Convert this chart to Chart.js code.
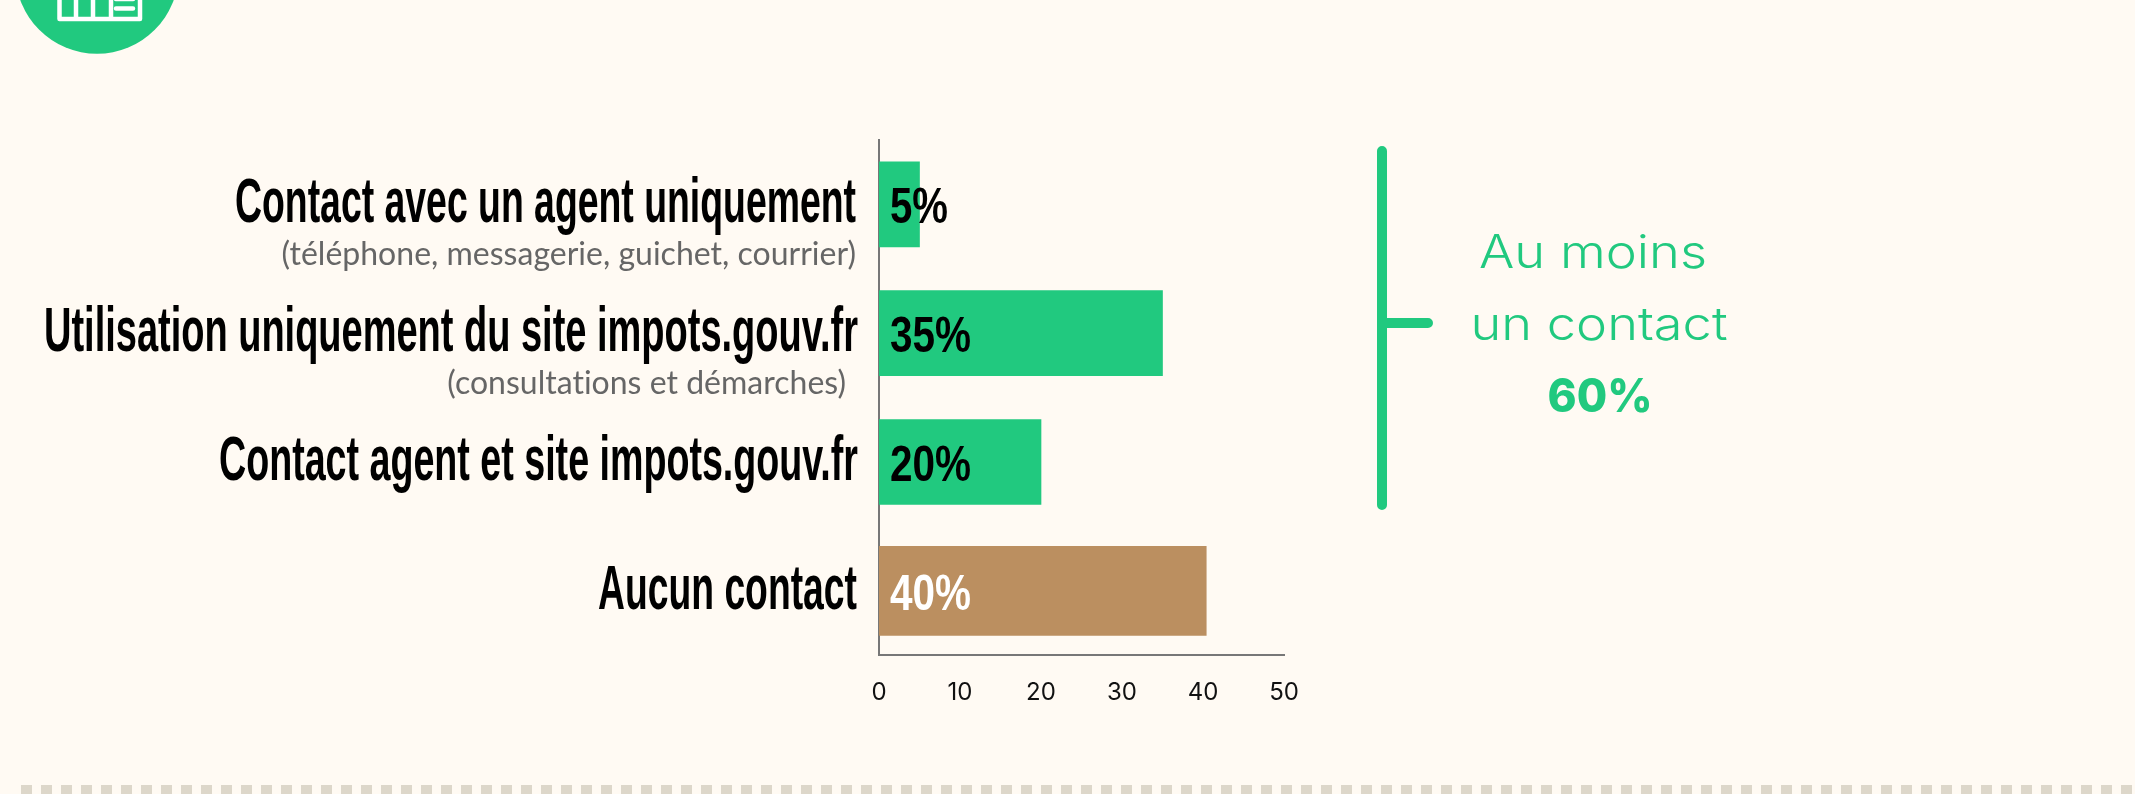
<!DOCTYPE html>
<html lang="fr"><head><meta charset="utf-8">
<style>html,body{margin:0;padding:0;background:#fffaf3;overflow:hidden}canvas{display:block}#w{width:2135px;height:794px;position:relative}</style>
<script src="https://cdn.jsdelivr.net/npm/chart.js@4"></script>
</head><body><div id="w"><canvas id="c" width="2135" height="794"></canvas></div>
<script>
const categories = ["Contact avec un agent uniquement","Utilisation uniquement du site impots.gouv.fr","Contact agent et site impots.gouv.fr","Aucun contact"];
const subLabels = ["(téléphone, messagerie, guichet, courrier)","(consultations et démarches)","",""];
const contactValues = [5,35,20,null];
const noContactValues = [null,null,null,40.4];
const valueLabels = ["5%","35%","20%","40%"];
const calloutLines = ["Au moins","un contact","60%"];
const GREEN="#21c97f",BROWN="#bb8f60",AXIS="#777";
const COND='"Liberation Sans Narrow","Liberation Sans",sans-serif';
const WIDE='Inter,"Open Sans",sans-serif';
function fit(ctx,text,x,y,width,font,color,align){
  ctx.save();ctx.font=font;ctx.fillStyle=color;ctx.textBaseline='alphabetic';ctx.textAlign='left';
  const m=ctx.measureText(text).width,s=width/m;
  const left=align==='right'?x-width:align==='center'?x-width/2:x;
  ctx.translate(left,y);ctx.scale(s,1);ctx.fillText(text,0,0);ctx.restore();
}
const labelsPlugin={id:'labels',
 beforeDatasetsDraw(chart){
  const ctx=chart.ctx;
  ctx.save();
  ctx.fillStyle="#ddd7ca";for(let x=21;x<2135;x+=20)ctx.fillRect(x,785,11,9);
  ctx.fillStyle=GREEN;ctx.beginPath();ctx.arc(97,-28,81.7,0,Math.PI*2);ctx.fill();
  ctx.strokeStyle="#fff";ctx.lineWidth=4.5;ctx.lineJoin='round';
  ctx.strokeRect(59.5,-12,80.5,31);
  ctx.beginPath();[76,93,111].forEach(x=>{ctx.moveTo(x,-12);ctx.lineTo(x,19)});ctx.stroke();
  ctx.lineCap='round';ctx.beginPath();ctx.moveTo(116,-1);ctx.lineTo(133,-1);ctx.moveTo(116,8.5);ctx.lineTo(133,8.5);ctx.stroke();
  ctx.strokeStyle=GREEN;ctx.lineCap='round';ctx.lineWidth=10;
  ctx.beginPath();ctx.moveTo(1382,151);ctx.lineTo(1382,505);ctx.moveTo(1382,323);ctx.lineTo(1428,323);ctx.stroke();
  ctx.restore();
 },
 afterDatasetsDraw(chart){
  const ctx=chart.ctx,y=chart.scales.y;
  const mainW=[621,814,639,259],mainR=[856,858,858,857],subR=[856,846];
  const subY=[61,61];
  categories.forEach((t,i)=>{
    const py=y.getPixelForValue(i);
    fit(ctx,t,mainR[i],py+18,mainW[i],'bold 63px '+COND,'#000','right');
    if(subLabels[i]){ctx.save();ctx.font='32px Lato';ctx.letterSpacing='0.01px';ctx.fillStyle='#666';ctx.textAlign='right';ctx.textBaseline='alphabetic';ctx.fillText(subLabels[i],subR[i],py+subY[i]);ctx.restore();}
    const vw=[58,81,81,81][i];
    fit(ctx,valueLabels[i],890,py+19,vw,'bold 50px '+COND,i===3?'#fff':'#000','left');
  });
  fit(ctx,calloutLines[0],1593,268,228,'300 46px '+WIDE,GREEN,'center');
  fit(ctx,calloutLines[1],1599,340,257,'300 46px '+WIDE,GREEN,'center');
  fit(ctx,calloutLines[2],1600,412,105,'800 46px '+WIDE,GREEN,'center');
 }};
new Chart(document.getElementById('c'),{type:'bar',
 data:{labels:categories,datasets:[
  {data:contactValues,backgroundColor:GREEN,barThickness:85,grouped:false},
  {data:noContactValues,backgroundColor:BROWN,barThickness:89,grouped:false}]},
 options:{indexAxis:'y',responsive:false,animation:false,
  layout:{padding:{left:879,top:140,right:851,bottom:64}},
  plugins:{legend:{display:false},tooltip:{enabled:false}},
  scales:{
   x:{min:0,max:50,ticks:{stepSize:10,color:'#111',font:{family:'Inter',size:24},padding:23,maxRotation:0},
      grid:{display:false,drawTicks:false},border:{color:AXIS,width:2}},
   y:{ticks:{display:false},grid:{display:false,drawTicks:false},border:{color:AXIS,width:2}}}},
 plugins:[labelsPlugin]});
</script></body></html>
